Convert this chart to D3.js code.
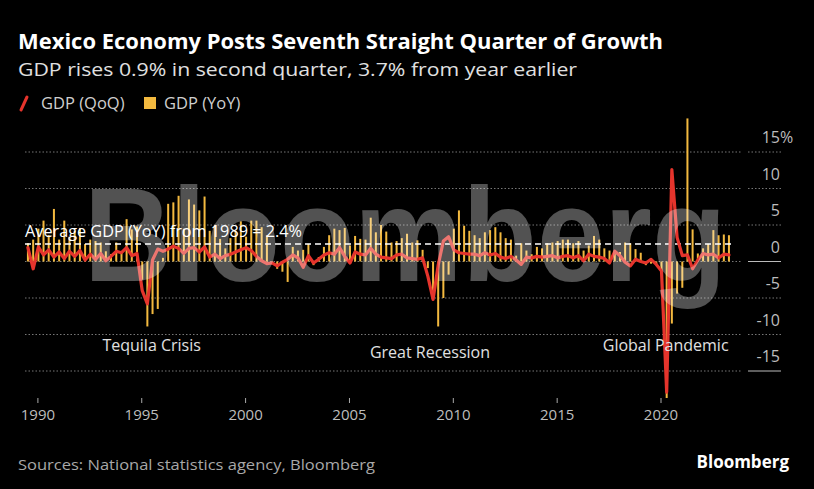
<!DOCTYPE html>
<html>
<head>
<meta charset="utf-8">
<script src="https://cdn.jsdelivr.net/npm/d3@7"></script>
<style>
  body { margin: 0; background: #000; }
  svg { display: block; font-family: "Open Sans", sans-serif; }
</style>
</head>
<body>
<svg id="canvas" width="814" height="489"></svg>
<script>
// quarterly data, first quarter is 1989 Q3, last is 2023 Q2
let firstQuarter = [1989, 3]

let gdpQoQ = [
  1.9, -1.0,
  2.0, 0.9, 1.6, 0.6,   1.3, 0.4, 1.4, 0.7,   1.5, 0.2, 1.0, 0.3,   1.1, 0.1, 0.7, 1.4,
  1.2, 1.9, 0.8, 1.1,   -4.0, -5.8, 0.2, 1.7, 1.4, 1.7, 2.1, 1.8,   1.1, 1.8, 1.9, 1.3,
  2.0, 0.6, 1.0, 0.4,   0.8, 1.0, 1.3, 1.6,   1.9, 1.5, 0.7, 0.1,   -0.3, -0.2, -0.6, -0.1,
  0.3, 0.9, 0.5, -0.8,  0.8, -0.2, 0.3, 0.9,  1.2, 1.0, 1.9, 0.7,   -0.2, 1.3, 1.0, 0.9,
  1.8, 1.0, 0.6, 0.5,   0.4, 0.9, 1.0, 0.5,   0.4, 0.3, 0.5, -2.0,  -5.2, -0.5, 2.8, 3.4,
  1.6, 1.2, 1.1, 1.0,   1.0, 0.8, 1.2, 0.9,   1.1, 0.6, 0.4, 0.7,   0.2, -0.4, 0.6, 0.5,
  0.7, 0.6, 0.7, 0.8,   0.5, 0.7, 0.8, 0.5,   0.8, 0.1, 1.0, 0.7,   0.6, 0.4, -0.2, 1.4,
  0.8, -0.1, -0.6, 0.3, 0.0, -0.2, 0.3, -0.4, -1.3, -17.9, 12.6, 3.3, 0.8, 0.9, -1.0, 0.2,
  1.1, 0.9, 1.0, 0.5,   1.0, 0.9
]

let gdpYoY = [
  2.5, 3.0,
  4.5, 5.6, 3.6, 7.2,   3.0, 5.6, 3.4, 4.2,   4.6, 2.4, 3.0, 2.8,   2.6, 1.4, 1.0, 2.6,
  1.2, 5.8, 4.4, 4.8,   -2.5, -8.9, -7.2, -6.5, 0.5, 7.9, 8.1, 9.0, 4.5, 8.5, 7.8, 7.0,
  8.9, 4.2, 5.0, 3.1,   1.8, 3.2, 4.2, 5.5,   3.4, 5.6, 5.6, 4.7,   3.6, -0.3, -1.0, -1.4,
  -2.8, 2.0, 1.5, 1.6,  2.4, -0.5, 0.6, 2.0,  3.6, 4.5, 4.3, 4.6,   2.2, 3.5, 3.1, 3.0,
  6.0, 4.0, 5.0, 4.1,   2.6, 2.8, 3.2, 3.8,   2.6, 2.9, 1.6, -0.9,  -5.0, -8.9, -5.0, -1.8,
  4.5, 7.0, 4.9, 4.2,   3.6, 3.2, 4.0, 4.3,   4.7, 4.0, 3.2, 3.0,   0.8, 2.5, 1.5, 1.0,
  2.0, 1.8, 2.5, 2.6,   2.8, 3.0, 3.0, 2.5,   2.8, 1.5, 2.2, 3.5,   3.0, 1.8, 1.5, 1.5,
  1.3, 2.6, 2.5, 1.7,   1.2, -0.5, -0.3, -0.5, -1.3, -18.7, -8.5, -4.4, -3.6, 19.6, 4.4, 1.1,
  1.8, 2.4, 4.3, 3.6,   3.7, 3.6
]

let avgYoY = 2.4
let yTicks = [-15, -10, -5, 0, 5, 10, 15]
let xTickYears = [1990, 1995, 2000, 2005, 2010, 2015, 2020]
let events = [
  {name: "Tequila Crisis", year: 1995.5, level: -12.2},
  {name: "Great Recession", year: 2008.9, level: -13.2},
  {name: "Global Pandemic", year: 2020.25, level: -12.2}
]

let red = "#e5342c"
let yellow = "#f3b93f"

// build the quarter dates
let rows = gdpQoQ.map((v, i) => {
  let q = firstQuarter[1] - 1 + i
  let year = firstQuarter[0] + Math.floor(q / 4)
  let month = (q % 4) * 3
  return {date: new Date(year, month, 1), qoq: v, yoy: gdpYoY[i]}
})

let yearDate = (yr) => new Date(Math.floor(yr), 0, 1 + Math.round((yr % 1) * 365))

let canvas = d3.select('#canvas')

let x = d3.scaleTime()
  .domain([new Date(1990, 0, 1), new Date(2020, 0, 1)])
  .range([37.4, 660.5])

let y = d3.scaleLinear().domain([-15, 15]).range([371, 152])

let plotLeft = 25, plotRight = 742, axisLeft = 748, axisRight = 781

// titles
canvas.append('text').attr('x', 18).attr('y', 49)
  .attr('fill', '#fff').attr('font-weight', 700).attr('font-size', 21)
  .attr('textLength', 645).attr('lengthAdjust', 'spacingAndGlyphs')
  .text('Mexico Economy Posts Seventh Straight Quarter of Growth')

canvas.append('text').attr('x', 18).attr('y', 76)
  .attr('fill', '#e0e0e0').attr('font-size', 19)
  .attr('textLength', 559).attr('lengthAdjust', 'spacingAndGlyphs')
  .text('GDP rises 0.9% in second quarter, 3.7% from year earlier')

// legend
let legend = canvas.append('g').attr('font-size', 16.5).attr('fill', '#cfcfcf')
legend.append('line').attr('x1', 21).attr('y1', 110).attr('x2', 27).attr('y2', 97)
  .attr('stroke', red).attr('stroke-width', 3).attr('stroke-linecap', 'round')
legend.append('text').attr('x', 41).attr('y', 109).text('GDP (QoQ)')
legend.append('rect').attr('x', 144).attr('y', 97).attr('width', 12).attr('height', 12).attr('fill', yellow)
legend.append('text').attr('x', 164).attr('y', 109).text('GDP (YoY)')

// gridlines
let grid = canvas.append('g')
grid.selectAll('.gp')
  .data(yTicks)
  .enter()
  .append('line')
  .attr('x1', plotLeft).attr('x2', plotRight)
  .attr('y1', d => y(d)).attr('y2', d => y(d))
  .attr('stroke', '#777').attr('stroke-width', 1).attr('stroke-dasharray', '1.5,2')
grid.selectAll('.ga')
  .data(yTicks)
  .enter()
  .append('line')
  .attr('x1', axisLeft).attr('x2', axisRight)
  .attr('y1', d => y(d)).attr('y2', d => y(d))
  .attr('stroke', d => (d == 0 || d == -15) ? '#bbb' : '#777')
  .attr('stroke-width', 1)
  .attr('stroke-dasharray', d => (d == 0 || d == -15) ? null : '1.5,2')

// y labels
let yl = canvas.append('g').attr('font-size', 16).attr('fill', '#bdbdbd')
yl.selectAll('text')
  .data(yTicks)
  .enter()
  .append('text')
  .attr('x', 780).attr('y', d => y(d) - 9)
  .attr('text-anchor', 'end')
  .text(d => d)
yl.append('text').attr('x', 780).attr('y', y(15) - 9).text('%')

// x axis
let xAxis = d3.axisBottom(x)
  .tickValues(xTickYears.map(d => new Date(d, 0, 1)))
  .tickSize(5)
  .tickFormat(d3.timeFormat('%Y'))
let xg = canvas.append('g').attr('transform', 'translate(0,398)').call(xAxis)
xg.select('.domain').remove()
xg.selectAll('line').attr('stroke', '#aaa')
xg.selectAll('text').attr('fill', '#bdbdbd').attr('font-size', 15)
  .attr('font-family', '"Open Sans", sans-serif').attr('dy', '0.95em')

// yoy bars
canvas.append('g')
  .selectAll('rect')
  .data(rows)
  .enter()
  .append('rect')
  .attr('x', d => x(d.date))
  .attr('width', 2)
  .attr('y', d => Math.min(y(d.yoy), y(0)))
  .attr('height', d => Math.abs(y(d.yoy) - y(0)))
  .attr('fill', yellow)

// average line
canvas.append('line')
  .attr('x1', plotLeft).attr('x2', 731)
  .attr('y1', y(avgYoY)).attr('y2', y(avgYoY))
  .attr('stroke', '#fff').attr('stroke-width', 1.5).attr('stroke-dasharray', '6,4')

// qoq line
let line = d3.line()
  .x(d => x(d.date) + 1)
  .y(d => y(d.qoq))
canvas.append('path')
  .datum(rows)
  .attr('d', line)
  .attr('fill', 'none')
  .attr('stroke', red)
  .attr('stroke-width', 3.2)
  .attr('stroke-linejoin', 'round')
  .attr('stroke-linecap', 'round')

// annotations
canvas.append('text').attr('x', 25).attr('y', 237)
  .attr('fill', '#fff').attr('font-size', 15.5)
  .attr('textLength', 277).attr('lengthAdjust', 'spacingAndGlyphs')
  .text('Average GDP (YoY) from 1989 = ' + avgYoY + '%')

canvas.append('g').selectAll('text')
  .data(events)
  .enter()
  .append('text')
  .attr('x', d => x(yearDate(d.year)))
  .attr('y', d => y(d.level))
  .attr('text-anchor', 'middle')
  .attr('fill', '#e0e0e0').attr('font-size', 16)
  .text(d => d.name)

// watermark on top
canvas.append('text')
  .attr('transform', 'translate(84,281) scale(0.915,1)')
  .attr('font-family', '"Liberation Sans", Arial, sans-serif')
  .attr('font-weight', 700).attr('font-size', 133)
  .attr('fill', '#fff').attr('fill-opacity', 0.32)
  .text('Bloomberg')

// footer
canvas.append('text').attr('x', 18).attr('y', 470)
  .attr('fill', '#a8a8a8').attr('font-size', 15)
  .attr('textLength', 357).attr('lengthAdjust', 'spacingAndGlyphs')
  .text('Sources: National statistics agency, Bloomberg')
canvas.append('text').attr('x', 789).attr('y', 468)
  .attr('text-anchor', 'end')
  .attr('fill', '#fff').attr('font-weight', 700).attr('font-size', 17)
  .text('Bloomberg')
</script>
</body>
</html>
